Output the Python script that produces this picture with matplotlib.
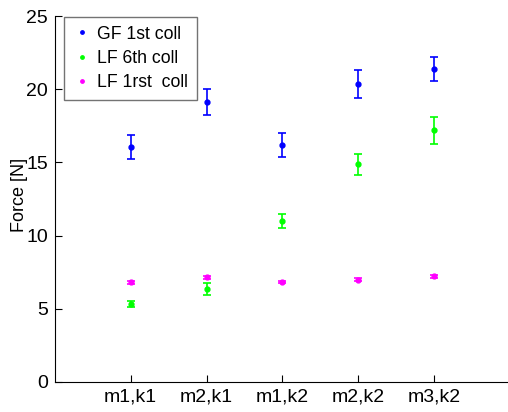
import matplotlib.pyplot as plt
import numpy as np

plt.rcParams['font.family'] = ['Liberation Sans', 'DejaVu Sans']

labels = ['m1,k1', 'm2,k1', 'm1,k2', 'm2,k2', 'm3,k2']

gf_1st = [16.07, 19.13, 16.19, 20.36, 21.38]
gf_1st_err = [0.83, 0.9, 0.84, 0.93, 0.82]

lf_6th = [5.33, 6.35, 10.97, 14.86, 17.19]
lf_6th_err = [0.2, 0.38, 0.48, 0.7, 0.9]

lf_1rst = [6.81, 7.15, 6.81, 6.98, 7.21]
lf_1rst_err = [0.1, 0.1, 0.08, 0.1, 0.1]

x = np.arange(1, len(labels) + 1)

fig = plt.figure(figsize=(5.08, 4.12), dpi=100)
ax = fig.add_axes([0.108, 0.073, 0.896, 0.888])

series = [(gf_1st, gf_1st_err, (0, 0, 1), 'GF 1st coll'),
          (lf_6th, lf_6th_err, (0, 1, 0), 'LF 6th coll'),
          (lf_1rst, lf_1rst_err, (1, 0, 1), 'LF 1rst  coll')]

handles = []
for vals, err, col, name in series:
    ax.errorbar(x, vals, yerr=err, fmt='none', ecolor=col, elinewidth=1.2,
                capsize=3, capthick=1.2)
    h, = ax.plot(x, vals, '.', color=col, markersize=7, label=name)
    handles.append(h)

ax.set_xlim(0, 6)
ax.set_ylim(0, 25)
ax.set_xticks(x)
ax.set_xticklabels(labels)
ax.set_yticks([0, 5, 10, 15, 20, 25])
ax.tick_params(direction='in', length=5, labelsize=14, width=0.8, pad=5)
ax.set_ylabel('Force [N]', fontsize=13)
ax.yaxis.set_label_coords(-0.059, 0.51)
ax.spines['top'].set_visible(False)
ax.spines['right'].set_visible(False)

leg = ax.legend(handles=handles, loc='upper left', bbox_to_anchor=(0.02, 0.998),
                borderaxespad=0, fontsize=12.7, fancybox=False, edgecolor='0.45',
                framealpha=1, handlelength=1.0, handletextpad=0.4,
                borderpad=0.5, labelspacing=0.4, markerscale=0.7)
leg.get_frame().set_linewidth(1.0)

fig.savefig('out.png', dpi=100)
